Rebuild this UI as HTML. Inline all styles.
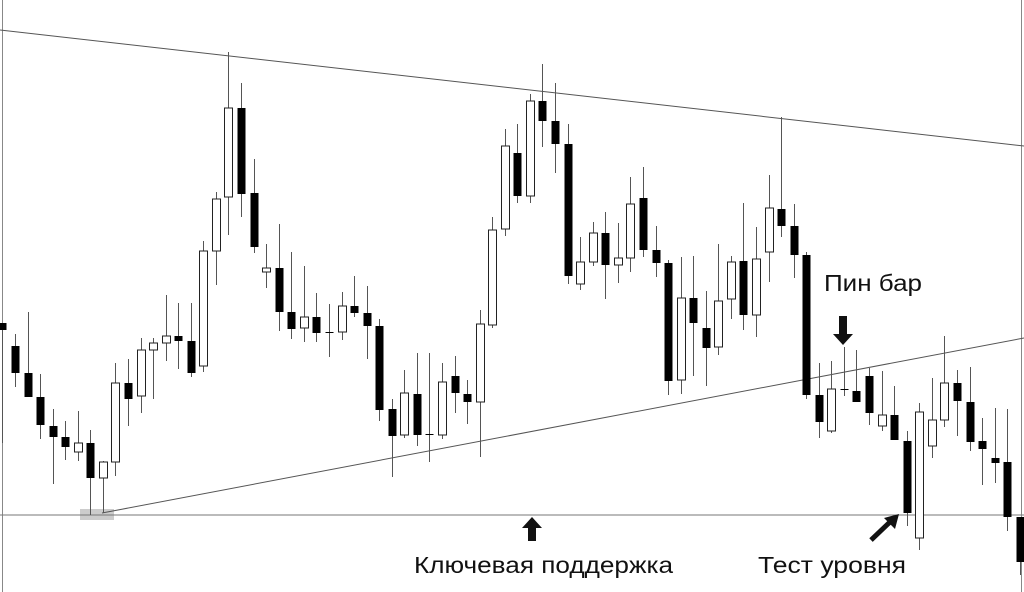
<!DOCTYPE html>
<html><head><meta charset="utf-8"><style>
html,body{margin:0;padding:0;background:#fff;width:1024px;height:592px;overflow:hidden}
svg{display:block}
text{font-family:"Liberation Sans","DejaVu Sans",sans-serif;font-size:23px;fill:#111}
</style></head><body>
<svg id="chart" width="1024" height="592" viewBox="0 0 1024 592">
<line x1="2.5" y1="0" x2="2.5" y2="592" stroke="#888" stroke-width="1"/>
<line x1="1021.5" y1="0" x2="1021.5" y2="592" stroke="#888" stroke-width="1"/>
<rect x="80" y="509" width="34" height="11" fill="#ccc"/>
<line x1="0" y1="30" x2="1024" y2="146" stroke="#555" stroke-width="1"/>
<line x1="102" y1="513" x2="1024" y2="338" stroke="#555" stroke-width="1"/>
<line x1="0" y1="515" x2="1024" y2="515" stroke="#777" stroke-width="1"/>
<g id="candles"></g>
<polygon points="532,517 542,528 536,528 536,541 528,541 528,528 522,528" fill="#111"/>
<polygon points="843,345 853,334 847,334 847,316 839,316 839,334 833,334" fill="#111"/>
<g>
<line x1="871" y1="540" x2="891" y2="521" stroke="#111" stroke-width="5"/>
<polygon points="899,514 884,518 895,529" fill="#111"/>
</g>
<text x="824" y="291" textLength="98" lengthAdjust="spacingAndGlyphs">Пин бар</text>
<text x="414" y="573" textLength="259" lengthAdjust="spacingAndGlyphs">Ключевая поддержка</text>
<text x="758" y="573" textLength="148" lengthAdjust="spacingAndGlyphs">Тест уровня</text>
</svg>
<script>
const opens=[277,254,227,203,174,163,148,157,122,138,217,204,250,257,264,259,234,349,403,492,407,328,332,288,272,283,268,268,294,287,274,191,165,206,166,165,224,206,198,275,371,447,404,499,479,456,316,338,367,335,342,402,350,337,220,302,272,253,301,339,285,348,391,374,345,205,169,211,209,224,174,185,159,62,154,180,217,198,159,142,138,83];
const highs=[277,266,288,226,191,179,189,170,139,237,241,262,262,305,297,297,359,408,548,517,441,356,376,348,334,307,296,308,324,314,281,201,230,247,247,237,244,220,290,383,471,476,506,536,517,476,363,378,388,377,423,433,374,340,343,344,309,356,344,397,373,425,483,396,348,237,239,253,250,232,229,214,169,197,222,264,230,233,182,192,191,82];
const lows=[157,213,203,161,116,140,139,85,87,124,174,187,201,239,231,223,228,315,365,383,347,312,269,261,258,258,243,260,283,241,179,123,162,154,138,161,187,176,143,272,364,397,397,453,427,316,310,334,301,317,328,343,323,205,206,224,214,245,281,270,263,318,363,322,201,162,167,204,198,175,169,160,74,50,142,173,164,149,115,117,69,25];
const closes=[270,227,203,175,163,153,157,122,138,217,201,250,257,264,259,227,349,401,492,406,353,332,288,271,283,267,268,294,287,274,190,164,207,165,166,218,207,198,276,370,454,404,499,479,456,324,338,367,335,342,396,350,337,219,302,277,252,299,338,285,341,392,374,345,205,178,211,211,198,187,185,160,87,188,180,217,199,158,151,137,83,38];
const x0=2.4, step=12.56, bw=8;
function xScale(i){return x0+i*step;}
function yScale(p){return 600-p;}
const NS='http://www.w3.org/2000/svg';
const g=document.getElementById('candles');
for(let i=0;i<opens.length;i++){
  const cx=Math.round(xScale(i))+0.5;
  const c=document.createElementNS(NS,'g');
  
  
  const w=document.createElementNS(NS,'line');
  w.setAttribute('x1',cx);w.setAttribute('x2',cx);
  w.setAttribute('y1',yScale(highs[i]));w.setAttribute('y2',yScale(lows[i]));
  w.setAttribute('stroke','#555');w.setAttribute('stroke-width','1');
  
  
  c.appendChild(w);
  const top=yScale(Math.max(opens[i],closes[i])), bot=yScale(Math.min(opens[i],closes[i]));
  const bull=closes[i]>opens[i];
  const r=document.createElementNS(NS,'rect');
  r.setAttribute('x',cx-bw/2);r.setAttribute('y',top);
  r.setAttribute('width',bw);r.setAttribute('height',Math.max(1,bot-top));
  if(bull){r.setAttribute('fill','#fff');r.setAttribute('stroke','#222');r.setAttribute('stroke-width','1');}
  else{r.setAttribute('fill','#000');}
  
  
  c.appendChild(r);
  g.appendChild(c);
}
</script>
</body></html>
